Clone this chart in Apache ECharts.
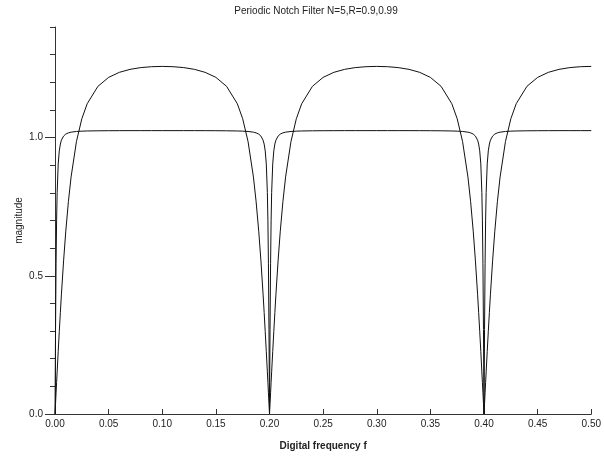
<!DOCTYPE html>
<html>
<head>
<meta charset="utf-8">
<script src="https://cdn.jsdelivr.net/npm/echarts@6/dist/echarts.min.js"></script>
<style>html,body{margin:0;padding:0;background:#fff;}#c{width:604px;height:459px;}</style>
</head>
<body>
<div id="c"></div>
<script>
var titleText = 'Periodic Notch Filter N=5,R=0.9,0.99';
var xName = 'Digital frequency f';
var yName = 'magnitude';
var yLabelValues = [0, 0.5, 1.0];

var freq = [
0, 0.0005, 0.001, 0.0015, 0.002, 0.003, 0.004, 0.005, 0.006, 0.008, 0.01, 0.0125, 0.015, 0.02, 0.025, 0.03, 0.04, 0.05, 0.06, 0.07, 0.08, 0.09, 0.1,
0.11, 0.12, 0.13, 0.14, 0.15, 0.16, 0.17, 0.175, 0.18, 0.185, 0.1875, 0.19, 0.192, 0.194, 0.195, 0.196, 0.197, 0.198, 0.1985, 0.199, 0.1995, 0.2,
0.2005, 0.201, 0.2015, 0.202, 0.203, 0.204, 0.205, 0.206, 0.208, 0.21, 0.2125, 0.215, 0.22, 0.225, 0.23, 0.24, 0.25, 0.26, 0.27, 0.28, 0.29, 0.3,
0.31, 0.32, 0.33, 0.34, 0.35, 0.36, 0.37, 0.375, 0.38, 0.385, 0.3875, 0.39, 0.392, 0.394, 0.395, 0.396, 0.397, 0.398, 0.3985, 0.399, 0.3995, 0.4,
0.4005, 0.401, 0.4015, 0.402, 0.403, 0.404, 0.405, 0.406, 0.408, 0.41, 0.4125, 0.415, 0.42, 0.425, 0.43, 0.44, 0.45, 0.46, 0.47, 0.48, 0.49, 0.5
];

var magR090 = [
0, 0.0383, 0.0766, 0.1146, 0.1524, 0.2266, 0.2985, 0.3676, 0.4334, 0.5539, 0.6589, 0.7688, 0.8576, 0.9856, 1.0680, 1.1223, 1.1853, 1.2178, 1.2360, 1.2468, 1.2531, 1.2564, 1.2575,
1.2564, 1.2531, 1.2468, 1.2360, 1.2178, 1.1853, 1.1223, 1.0680, 0.9856, 0.8576, 0.7688, 0.6589, 0.5539, 0.4334, 0.3676, 0.2985, 0.2266, 0.1524, 0.1146, 0.0766, 0.0383, 0,
0.0383, 0.0766, 0.1146, 0.1524, 0.2266, 0.2985, 0.3676, 0.4334, 0.5539, 0.6589, 0.7688, 0.8576, 0.9856, 1.0680, 1.1223, 1.1853, 1.2178, 1.2360, 1.2468, 1.2531, 1.2564, 1.2575,
1.2564, 1.2531, 1.2468, 1.2360, 1.2178, 1.1853, 1.1223, 1.0680, 0.9856, 0.8576, 0.7688, 0.6589, 0.5539, 0.4334, 0.3676, 0.2985, 0.2266, 0.1524, 0.1146, 0.0766, 0.0383, 0,
0.0383, 0.0766, 0.1146, 0.1524, 0.2266, 0.2985, 0.3676, 0.4334, 0.5539, 0.6589, 0.7688, 0.8576, 0.9856, 1.0680, 1.1223, 1.1853, 1.2178, 1.2360, 1.2468, 1.2531, 1.2564, 1.2575
];

var magR099 = [
0, 0.3059, 0.5435, 0.7014, 0.8007, 0.9048, 0.9520, 0.9766, 0.9907, 1.0054, 1.0125, 1.0170, 1.0196, 1.0221, 1.0232, 1.0239, 1.0245, 1.0248, 1.0250, 1.0251, 1.0251, 1.0251, 1.0251,
1.0251, 1.0251, 1.0251, 1.0250, 1.0248, 1.0245, 1.0239, 1.0232, 1.0221, 1.0196, 1.0170, 1.0125, 1.0054, 0.9907, 0.9766, 0.9520, 0.9048, 0.8007, 0.7014, 0.5435, 0.3059, 0,
0.3059, 0.5435, 0.7014, 0.8007, 0.9048, 0.9520, 0.9766, 0.9907, 1.0054, 1.0125, 1.0170, 1.0196, 1.0221, 1.0232, 1.0239, 1.0245, 1.0248, 1.0250, 1.0251, 1.0251, 1.0251, 1.0251,
1.0251, 1.0251, 1.0251, 1.0250, 1.0248, 1.0245, 1.0239, 1.0232, 1.0221, 1.0196, 1.0170, 1.0125, 1.0054, 0.9907, 0.9766, 0.9520, 0.9048, 0.8007, 0.7014, 0.5435, 0.3059, 0,
0.3059, 0.5435, 0.7014, 0.8007, 0.9048, 0.9520, 0.9766, 0.9907, 1.0054, 1.0125, 1.0170, 1.0196, 1.0221, 1.0232, 1.0239, 1.0245, 1.0248, 1.0250, 1.0251, 1.0251, 1.0251, 1.0251
];

function pairs(xs, ys) {
  var out = [];
  for (var i = 0; i < xs.length; i++) out.push([xs[i], ys[i]]);
  return out;
}

var FONT = 'Liberation Sans';
var AX = '#333';
var chart = echarts.init(document.getElementById('c'), null, {renderer: 'canvas'});
chart.setOption({
  animation: false,
  backgroundColor: '#fff',
  grid: {left: 55, right: 12, top: 27, bottom: 45, containLabel: false},
  graphic: [{
    type: 'text', x: 316, y: 11,
    style: {text: titleText, fill: '#222', font: '10px "Liberation Sans"', align: 'center', verticalAlign: 'middle'}
  }],
  xAxis: {
    type: 'value', min: 0, max: 0.5, interval: 0.05,
    name: xName, nameLocation: 'middle', nameGap: 27,
    nameTextStyle: {fontFamily: FONT, fontSize: 10, fontWeight: 'bold', color: '#222'},
    axisLine: {lineStyle: {color: AX, width: 1}},
    axisTick: {inside: true, length: 5, lineStyle: {color: AX}},
    axisLabel: {margin: 5, fontFamily: FONT, fontSize: 10, color: '#222', formatter: function (v) { return v.toFixed(2); }},
    splitLine: {show: false}
  },
  yAxis: [{
    type: 'value', min: 0, max: 1.4, interval: 0.1,
    name: yName, nameLocation: 'middle', nameGap: 31,
    nameTextStyle: {fontFamily: FONT, fontSize: 10, color: '#222'},
    axisLine: {show: true, lineStyle: {color: AX, width: 1}},
    axisTick: {inside: false, length: 5, lineStyle: {color: AX}},
    axisLabel: {show: false},
    splitLine: {show: false}
  }, {
    type: 'value', min: 0, max: 1.4, interval: 0.1, position: 'left',
    axisLine: {show: false},
    axisTick: {show: true, inside: false, length: 10, customValues: yLabelValues, lineStyle: {color: AX}},
    axisLabel: {show: true, margin: 12, fontFamily: FONT, fontSize: 10, color: '#222', customValues: yLabelValues,
      formatter: function (v) { return v.toFixed(1); }},
    splitLine: {show: false}
  }],
  series: [{
    name: 'R=0.9', type: 'line', yAxisIndex: 0, showSymbol: false, symbol: 'none',
    data: pairs(freq, magR090), lineStyle: {color: '#111', width: 1}
  }, {
    name: 'R=0.99', type: 'line', yAxisIndex: 0, showSymbol: false, symbol: 'none',
    data: pairs(freq, magR099), lineStyle: {color: '#111', width: 1}
  }]
});
</script>
</body>
</html>
